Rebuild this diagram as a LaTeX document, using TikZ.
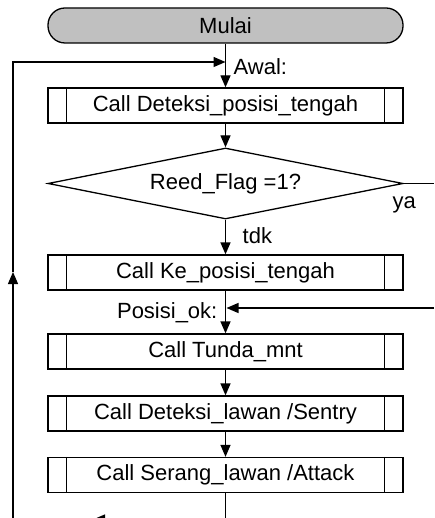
\documentclass[tikz,border=0pt]{standalone}
\usepackage{fontspec}
\setmainfont{Liberation Sans}
\usetikzlibrary{arrows.meta,shapes.geometric}
\begin{document}
\begin{tikzpicture}[x=1pt,y=-1pt,
  line width=1.3pt,
  font=\fontsize{22}{26}\selectfont,
  arr/.style={-{Triangle[length=12pt,width=10pt]}},
  term/.style={draw,fill=termgray,rounded corners=17pt,minimum width=355pt,minimum height=35pt,inner sep=0pt},
  subp/.style={draw,minimum width=355pt,minimum height=35pt,inner sep=0pt},
  dec/.style={draw,diamond,aspect=5,minimum width=355pt,minimum height=71pt,inner sep=0pt},
  lbl/.style={inner sep=0pt,anchor=base west}]
\definecolor{termgray}{RGB}{192,192,192}
\useasboundingbox (0,0) rectangle (434,518);
\clip (0,0) rectangle (434,518);

\node[term] (mulai) at (225.5,25.5) {Mulai};
\node[subp] (b1) at (225.5,105.5) {Call Deteksi\_posisi\_tengah};
\node[dec] (d1) at (225.5,183.5) {Reed\_Flag =1?};
\node[subp] (b2) at (225.5,272.5) {Call Ke\_posisi\_tengah};
\node[subp] (b3) at (225.5,351.5) {Call Tunda\_mnt};
\node[subp] (b4) at (225.5,413.5) {Call Deteksi\_lawan /Sentry};
\node[subp] (b5) at (225.5,475) {Call Serang\_lawan /Attack};

\foreach \n in {b1,b2,b3,b4,b5}{
  \draw ([xshift=19pt]\n.north west) -- ([xshift=19pt]\n.south west);
  \draw ([xshift=-19pt]\n.north east) -- ([xshift=-19pt]\n.south east);
}

% labels
\node[lbl] (awal) at (233,75) {Awal:};
\node[lbl] (ya) at (392,208.5) {ya};
\node[lbl] (tdk) at (242,243) {tdk};
\node[lbl,anchor=base east] (posok) at (218,318) {Posisi\_ok:};

% coordinates
\coordinate (awalpt) at (225.5,62);
\coordinate (lefttop) at (13,62);
\coordinate (leftbot) at (13,518);
\coordinate (leftmid) at (13,272);
\coordinate (rightya) at (434,183.5);
\coordinate (posokpt) at (226.5,308);
\coordinate (rightpos) at (434,308);
\coordinate (bot) at (225.5,518);
\coordinate (botarr) at (225.5,519.5);
\coordinate (botarrend) at (93,519.5);

% connectors
\draw (mulai.south) -- (awalpt);
\draw[arr] (awalpt) -- (b1.north);
\draw[arr] (leftbot) -- (leftmid);
\draw[arr] (leftmid) -- (lefttop) -- (awalpt);
\draw[arr] (b1.south) -- (d1.north);
\draw (d1.east) -- (rightya);
\draw[arr] (d1.south) -- (b2.north);
\draw[arr] (b2.south) -- (b3.north);
\draw[arr] (rightpos) -- (posokpt);
\draw[arr] (b3.south) -- (b4.north);
\draw[arr] (b4.south) -- (b5.north);
\draw (b5.south) -- (bot);
\draw[arr] (botarr) -- (botarrend);
\end{tikzpicture}
\end{document}
